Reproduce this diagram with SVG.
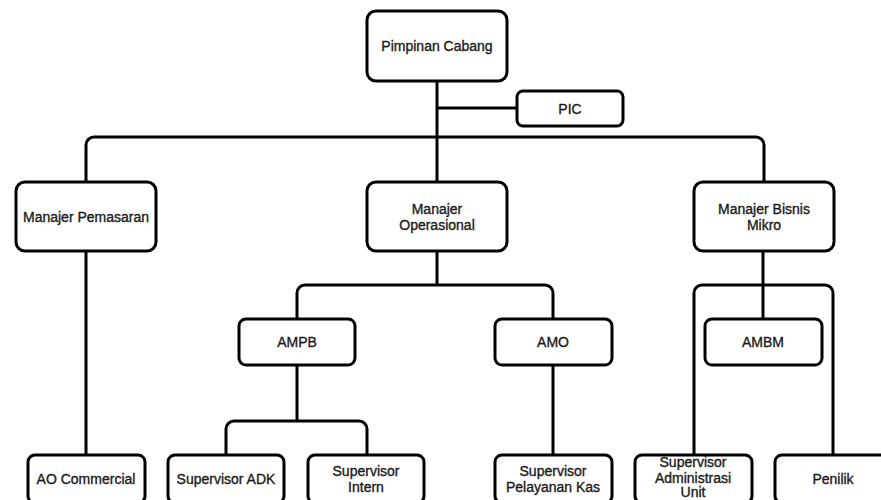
<svg xmlns="http://www.w3.org/2000/svg" width="881" height="500" viewBox="0 0 881 500">
<style>
.box{fill:#fff;stroke:#000;stroke-width:3}
.ln{fill:none;stroke:#000;stroke-width:3}
text{font-family:"Liberation Sans",Arial,sans-serif;font-size:14px;fill:#1a1a1a;stroke:#1a1a1a;stroke-width:0.35;text-anchor:middle;dominant-baseline:central}
</style>
<rect width="881" height="500" fill="#fff"/>
<g id="connectors">
<path class="ln" d="M437 81V182"/>
<path class="ln" d="M437 108H517"/>
<path class="ln" d="M86 251V145A8 8 0 0 1 94 137H756A8 8 0 0 1 764 145V182"/>
<path class="ln" d="M86 251V455"/>
<path class="ln" d="M437 251V285"/>
<path class="ln" d="M297 319V293A8 8 0 0 1 305 285H545A8 8 0 0 1 553 293V319"/>
<path class="ln" d="M297 364V421"/>
<path class="ln" d="M226 455V429A8 8 0 0 1 234 421H359A8 8 0 0 1 367 429V455"/>
<path class="ln" d="M553 365V455"/>
<path class="ln" d="M763 251V319"/>
<path class="ln" d="M694 455V293A8 8 0 0 1 702 285H825A8 8 0 0 1 833 293V455"/>
</g>
<g id="pimpinan"><rect class="box" x="367" y="11" width="140" height="70" rx="9"/><text x="437" y="46">Pimpinan Cabang</text></g>
<g id="pic"><rect class="box" x="517" y="91" width="106" height="35" rx="6"/><text x="570" y="108.5">PIC</text></g>
<g id="pemasaran"><rect class="box" x="16" y="182" width="140" height="69" rx="9"/><text x="86" y="216.5">Manajer Pemasaran</text></g>
<g id="operasional"><rect class="box" x="367" y="182" width="140" height="69" rx="9"/><text x="437" y="209">Manajer</text><text x="437" y="225">Operasional</text></g>
<g id="mikro"><rect class="box" x="694" y="182" width="140" height="69" rx="9"/><text x="764" y="209">Manajer Bisnis</text><text x="764" y="225">Mikro</text></g>
<g id="ampb"><rect class="box" x="239" y="319" width="116" height="46" rx="7"/><text x="297" y="342">AMPB</text></g>
<g id="amo"><rect class="box" x="495" y="319" width="117" height="46" rx="7"/><text x="553" y="342">AMO</text></g>
<g id="ambm"><rect class="box" x="705" y="319" width="117" height="46" rx="7"/><text x="763" y="342">AMBM</text></g>
<g id="ao"><rect class="box" x="28" y="455" width="117" height="48" rx="7"/><text x="86" y="479">AO Commercial</text></g>
<g id="adk"><rect class="box" x="168" y="455" width="116" height="48" rx="7"/><text x="226" y="479">Supervisor ADK</text></g>
<g id="intern"><rect class="box" x="308" y="455" width="116" height="48" rx="7"/><text x="366" y="471">Supervisor</text><text x="366" y="487">Intern</text></g>
<g id="kas"><rect class="box" x="495" y="455" width="117" height="48" rx="7"/><text x="553" y="471">Supervisor</text><text x="553" y="487">Pelayanan Kas</text></g>
<g id="admin"><rect class="box" x="635" y="455" width="117" height="48" rx="7"/><text x="693" y="462">Supervisor</text><text x="693" y="477.5">Administrasi</text><text x="693" y="492">Unit</text></g>
<g id="penilik"><rect class="box" x="775" y="455" width="117" height="48" rx="7"/><text x="833" y="479">Penilik</text></g>
</svg>
